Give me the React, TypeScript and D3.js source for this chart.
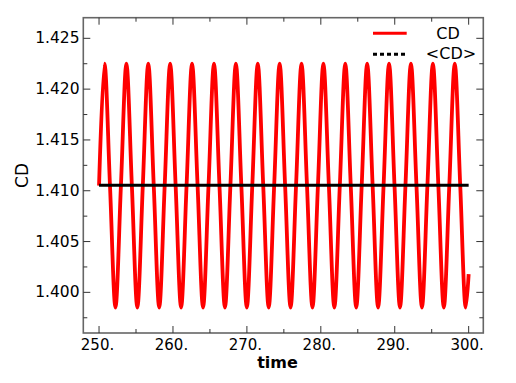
import React from "react";
import * as d3 from "d3";

// Key points of the CD signal (crossings, peaks, troughs)
const cdTimes: number[] = [
  250.0, 250.74, 251.48, 252.22, 252.96, 253.7, 254.44, 255.18, 255.92, 256.66,
  257.4, 258.14, 258.88, 259.62, 260.36, 261.1, 261.84, 262.58, 263.33, 264.07,
  264.81, 265.55, 266.29, 267.03, 267.77, 268.51, 269.25, 269.99, 270.73, 271.47,
  272.21, 272.95, 273.69, 274.43, 275.17, 275.91, 276.65, 277.39, 278.13, 278.87,
  279.61, 280.35, 281.09, 281.83, 282.57, 283.31, 284.05, 284.79, 285.53, 286.27,
  287.01, 287.75, 288.49, 289.23, 289.97, 290.71, 291.45, 292.19, 292.94, 293.68,
  294.42, 295.16, 295.9, 296.64, 297.38, 298.12, 298.86, 299.6, 300.0,
];
const cdValues: number[] = [
  1.4105, 1.4225, 1.4105, 1.3985, 1.4105, 1.4225, 1.4105, 1.3985, 1.4105, 1.4225,
  1.4105, 1.3985, 1.4105, 1.4225, 1.4105, 1.3985, 1.4105, 1.4225, 1.4105, 1.3985,
  1.4105, 1.4225, 1.4105, 1.3985, 1.4105, 1.4225, 1.4105, 1.3985, 1.4105, 1.4225,
  1.4105, 1.3985, 1.4105, 1.4225, 1.4105, 1.3985, 1.4105, 1.4225, 1.4105, 1.3985,
  1.4105, 1.4225, 1.4105, 1.3985, 1.4105, 1.4225, 1.4105, 1.3985, 1.4105, 1.4225,
  1.4105, 1.3985, 1.4105, 1.4225, 1.4105, 1.3985, 1.4105, 1.4225, 1.4105, 1.3985,
  1.4105, 1.4225, 1.4105, 1.3985, 1.4105, 1.4225, 1.4105, 1.3985, 1.4018,
];
const meanTimes: number[] = [250, 300];
const meanValues: number[] = [1.41055, 1.41055];

const xMajorTicks: number[] = [250, 260, 270, 280, 290, 300];
const xMinorTicks: number[] = [255, 265, 275, 285, 295];
const yMajorTicks: number[] = [1.4, 1.405, 1.41, 1.415, 1.42, 1.425];
const yMinorTicks: number[] = [1.3975, 1.4025, 1.4075, 1.4125, 1.4175, 1.4225];

const legendLabels: string[] = ["CD", "<CD>"];

export default function App() {
  const W = 516, H = 383;
  const L = 83.3, R = 483.3, T = 17.7, B = 333;
  const x = d3.scaleLinear().domain([247.87, 301.98]).range([L, R]);
  const y = d3.scaleLinear().domain([1.39600, 1.42703]).range([B, T]);

  const cdPts: [number, number][] = cdTimes.map((t, i) => [t, cdValues[i]]);
  const cdLine = d3
    .line<[number, number]>()
    .x((d) => x(d[0]))
    .y((d) => y(d[1]))
    .curve(d3.curveCatmullRom.alpha(0.5));
  const meanPts: [number, number][] = meanTimes.map((t, i) => [t, meanValues[i]]);
  const meanLine = d3
    .line<[number, number]>()
    .x((d) => x(d[0]))
    .y((d) => y(d[1]));

  const font = "DejaVu Sans, Verdana, sans-serif";
  const tickColor = "#333";
  const maj = 7, min = 4;

  return (
    <svg
      width={W}
      height={H}
      style={{ position: "absolute", left: 0, top: 0, background: "#fff" }}
    >
      <rect x={0} y={0} width={W} height={H} fill="#fff" />
      {/* data */}
      <path d={cdLine(cdPts) || ""} fill="none" stroke="#ff0000" strokeWidth={3.8} strokeLinejoin="round" />
      <path d={meanLine(meanPts) || ""} fill="none" stroke="#000" strokeWidth={3} />

      {/* frame */}
      <rect x={L} y={T} width={R - L} height={B - T} fill="none" stroke="#666" strokeWidth={1.6} />

      {/* x ticks */}
      {xMajorTicks.map((t) => (
        <g key={"xM" + t}>
          <line x1={x(t)} x2={x(t)} y1={B} y2={B - maj} stroke={tickColor} strokeWidth={1} />
          <line x1={x(t)} x2={x(t)} y1={T} y2={T + maj} stroke={tickColor} strokeWidth={1} />
          <text x={x(t) - 1.5} y={349.5} textAnchor="middle" fontFamily={font} fontSize={15} fill="#000">
            {t + "."}
          </text>
        </g>
      ))}
      {xMinorTicks.map((t) => (
        <g key={"xm" + t}>
          <line x1={x(t)} x2={x(t)} y1={B} y2={B - min} stroke={tickColor} strokeWidth={1} />
          <line x1={x(t)} x2={x(t)} y1={T} y2={T + min} stroke={tickColor} strokeWidth={1} />
        </g>
      ))}
      {/* y ticks */}
      {yMajorTicks.map((v) => (
        <g key={"yM" + v}>
          <line x1={L} x2={L + maj} y1={y(v)} y2={y(v)} stroke={tickColor} strokeWidth={1} />
          <line x1={R} x2={R - maj} y1={y(v)} y2={y(v)} stroke={tickColor} strokeWidth={1} />
          <text x={79.5} y={y(v) + 5} textAnchor="end" fontFamily={font} fontSize={15.5} fill="#000">
            {d3.format(".3f")(v)}
          </text>
        </g>
      ))}
      {yMinorTicks.map((v) => (
        <g key={"ym" + v}>
          <line x1={L} x2={L + min} y1={y(v)} y2={y(v)} stroke={tickColor} strokeWidth={1} />
          <line x1={R} x2={R - min} y1={y(v)} y2={y(v)} stroke={tickColor} strokeWidth={1} />
        </g>
      ))}

      {/* axis titles */}
      <text x={277.5} y={368} textAnchor="middle" fontFamily={font} fontSize={16} fontWeight="bold" fill="#000">
        time
      </text>
      <text
        transform={`translate(28,175.5) rotate(-90)`}
        textAnchor="middle"
        fontFamily={font}
        fontSize={17}
        fill="#000"
      >
        CD
      </text>

      {/* legend */}
      <line x1={373} x2={406.7} y1={33.3} y2={33.3} stroke="#ff0000" strokeWidth={3} />
      <text x={448} y={39} textAnchor="middle" fontFamily={font} fontSize={16} fill="#000">
        {legendLabels[0]}
      </text>
      <line x1={373} x2={406.7} y1={54.3} y2={54.3} stroke="#000" strokeWidth={3} strokeDasharray="4,3" />
      <text x={451} y={58.5} textAnchor="middle" fontFamily={font} fontSize={16} fill="#000">
        {legendLabels[1]}
      </text>
    </svg>
  );
}
